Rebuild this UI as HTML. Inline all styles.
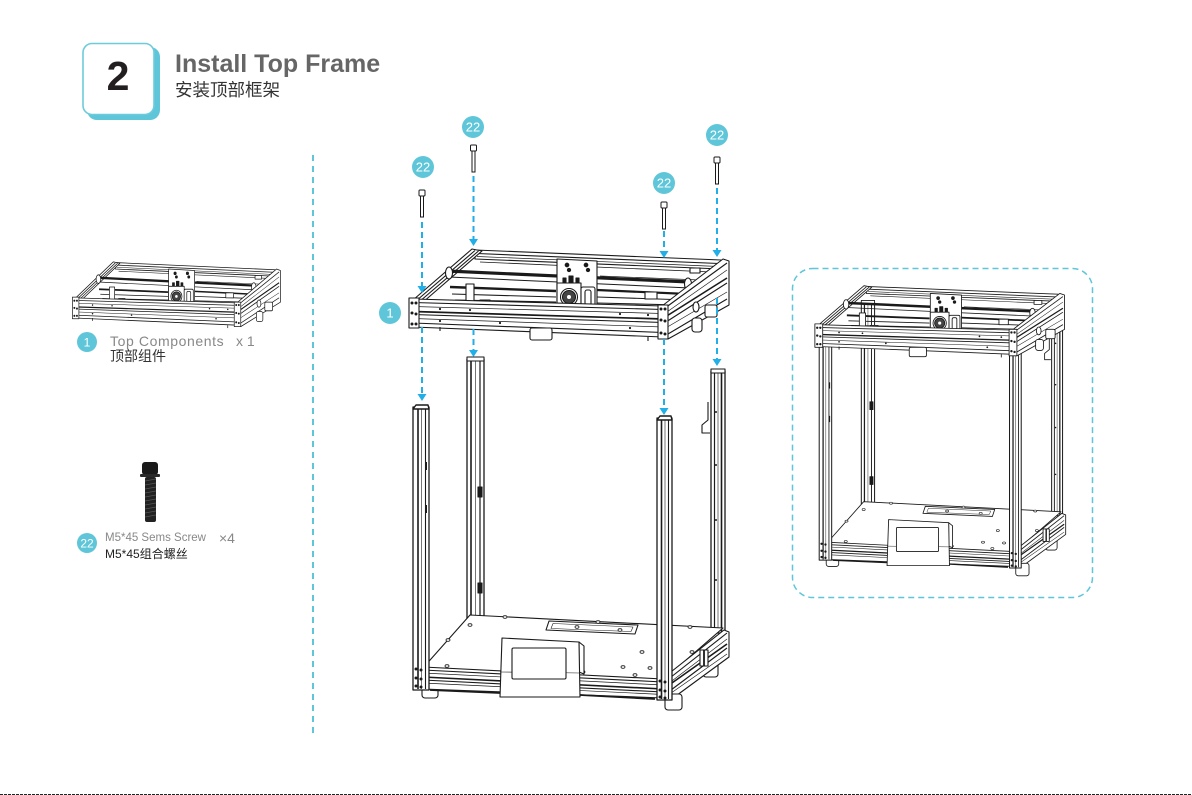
<!DOCTYPE html>
<html><head><meta charset="utf-8">
<style>
html,body{margin:0;padding:0;background:#fff;}
body{width:1192px;height:795px;position:relative;overflow:hidden;font-family:"Liberation Sans","Noto Sans CJK SC",sans-serif;}
.t{position:absolute;white-space:nowrap;line-height:1;}
svg{position:absolute;left:0;top:0;}
</style></head>
<body>
<svg width="1192" height="795" viewBox="0 0 1192 795">
<defs>
<!-- TOP FRAME (main coords) -->
<g id="tf" fill="#fff" stroke="#1a1a1a" stroke-width="1.1" stroke-linejoin="round">
  <polygon points="475,250 721,260 721,269 475,259"/>
  <line x1="477" y1="253.5" x2="719" y2="263.5"/>
  <line x1="477" y1="256.5" x2="719" y2="266.5" stroke-width="0.7"/>
  <polygon points="413,300 472,249 482,251 422,303"/>
  <line x1="416" y1="301" x2="475" y2="250.5"/>
  <line x1="419" y1="302" x2="478.5" y2="251"/>
  <!-- inner rods -->
  <line x1="480" y1="262" x2="712" y2="272" stroke-width="0.8"/>
  <line x1="447" y1="271" x2="690" y2="282" stroke-width="3.2"/>
  <line x1="449" y1="277" x2="690" y2="288" stroke-width="1"/>
  <line x1="450" y1="287" x2="556" y2="291" stroke-width="2.4"/>
  <line x1="452" y1="294" x2="556" y2="297"/>
  <line x1="455" y1="300" x2="556" y2="302"/>
  <line x1="462" y1="305" x2="556" y2="307"/>
  <line x1="597" y1="290" x2="688" y2="294" stroke-width="2.2"/>
  <line x1="597" y1="297" x2="688" y2="300"/>
  <line x1="597" y1="303" x2="680" y2="305"/>
  <line x1="600" y1="276" x2="700" y2="280" stroke-width="0.7"/>
  <rect x="466" y="284" width="8" height="18" />
  <rect x="480" y="300" width="10" height="7"/>
  <rect x="645" y="292" width="12" height="7"/>
  <rect x="690" y="268" width="10" height="5"/>
  <ellipse cx="449" cy="273" rx="3.5" ry="6"/>
  <ellipse cx="688" cy="284" rx="3.5" ry="6"/>
  <!-- carriage -->
  <polygon points="557,259 597,261 597,308 557,307"/>
  <circle cx="567" cy="265" r="1.8" fill="#1a1a1a"/>
  <circle cx="586" cy="265" r="1.8" fill="#1a1a1a"/>
  <circle cx="569" cy="270" r="1.6" fill="#1a1a1a"/>
  <circle cx="588" cy="270" r="1.6" fill="#1a1a1a"/>
  <rect x="563" y="278" width="3" height="5" fill="#1a1a1a"/>
  <rect x="569" y="276" width="4" height="7" fill="#1a1a1a"/>
  <rect x="576" y="278" width="3" height="5" fill="#1a1a1a"/>
  <rect x="557" y="283" width="24" height="25"/>
  <circle cx="569" cy="297" r="8.5"/>
  <circle cx="569" cy="297" r="6.5" fill="#444"/>
  <circle cx="569" cy="297" r="2" fill="#fff" stroke="none"/>
  <rect x="581" y="287" width="14" height="21" rx="2"/>
  <rect x="585" y="290" width="6" height="15" rx="2"/>
  <!-- front rails -->
  <polygon points="413,299 663,306 663,337 413,327"/>
  <line x1="413" y1="302.5" x2="663" y2="309.5"/>
  <line x1="413" y1="306.5" x2="663" y2="313.5" stroke-width="0.7"/>
  <line x1="413" y1="311.5" x2="663" y2="319" stroke-width="1.7"/>
  <line x1="413" y1="314.5" x2="663" y2="322.5"/>
  <line x1="413" y1="318.5" x2="663" y2="327" stroke-width="0.7"/>
  <line x1="413" y1="323" x2="663" y2="332.5"/>
  <g fill="#1a1a1a" stroke="none">
    <circle cx="440" cy="309" r="1.1"/><circle cx="470" cy="310" r="1.1"/><circle cx="620" cy="314" r="1.1"/><circle cx="648" cy="315" r="1.1"/>
    <circle cx="440" cy="321" r="1.1"/><circle cx="500" cy="323" r="1.1"/><circle cx="630" cy="328" r="1.1"/>
  </g>
  <rect x="409" y="298" width="10" height="30" fill="#fff"/>
  <g fill="#1a1a1a" stroke="none"><circle cx="412" cy="303" r="1.5"/><circle cx="416" cy="303" r="1.5"/><circle cx="412" cy="313" r="1.5"/><circle cx="416" cy="314" r="1.5"/><circle cx="412" cy="324" r="1.5"/><circle cx="416" cy="324" r="1.5"/></g>
  <!-- right side rails -->
  <polygon points="662,306 723,259 729,261 729,305 668,339 662,337"/>
  <line x1="665" y1="308" x2="727" y2="263"/>
  <line x1="664" y1="314" x2="727" y2="270" stroke-width="0.7"/>
  <line x1="662" y1="319" x2="727" y2="278" stroke-width="1.6"/>
  <line x1="666" y1="322" x2="727" y2="283"/>
  <line x1="664" y1="329" x2="727" y2="292" stroke-width="0.7"/>
  <line x1="668" y1="334" x2="727" y2="299"/>
  <rect x="658" y="305" width="10" height="34" fill="#fff"/>
  <g fill="#1a1a1a" stroke="none"><circle cx="661" cy="309" r="1.5"/><circle cx="665" cy="309" r="1.5"/><circle cx="661" cy="320" r="1.5"/><circle cx="665" cy="321" r="1.5"/><circle cx="661" cy="333" r="1.5"/><circle cx="665" cy="334" r="1.5"/></g>
  <rect x="692" y="318" width="10" height="14" rx="3"/>
  <rect x="705" y="305" width="12" height="12" rx="2"/>
  <ellipse cx="696" cy="307" rx="3" ry="5"/>
  <line x1="440" y1="327" x2="440" y2="331"/>
  <line x1="648" y1="337" x2="648" y2="341"/>
</g>
<g id="blk" fill="#fff" stroke="#1a1a1a" stroke-width="1.1">
  <rect x="530" y="328" width="22" height="12" rx="2"/>
</g>

<!-- POSTS + BASE (main coords) -->
<g id="pb" fill="#fff" stroke="#1a1a1a" stroke-width="1.1" stroke-linejoin="round">
  <!-- back posts -->
  <rect x="467" y="359" width="17" height="262" stroke-width="1.3"/>
  <line x1="471" y1="360" x2="471" y2="620" stroke-width="1.6"/>
  <line x1="475.5" y1="360" x2="475.5" y2="620" stroke-width="0.6"/>
  <line x1="480" y1="360" x2="480" y2="620" stroke-width="1.2"/>
  <rect x="467" y="357" width="17" height="4"/>
  <rect x="478" y="487" width="4" height="10" fill="#1a1a1a"/>
  <rect x="478" y="583" width="4" height="10" fill="#1a1a1a"/>
  <rect x="711" y="371" width="14" height="262" stroke-width="1.3"/>
  <line x1="714.5" y1="372" x2="714.5" y2="632" stroke-width="1.2"/>
  <line x1="718" y1="372" x2="718" y2="632" stroke-width="0.6"/>
  <line x1="721.5" y1="372" x2="721.5" y2="632" stroke-width="1.6"/>
  <rect x="711" y="369" width="14" height="4"/>
  <polyline points="708,402 708,420 702,425 702,433 710,433"/>
  <g fill="#1a1a1a" stroke="none"><circle cx="716" cy="412" r="1"/><circle cx="716" cy="465" r="1"/><circle cx="716" cy="520" r="1"/><circle cx="716" cy="580" r="1"/></g>
  <!-- right back foot -->
  <rect x="703" y="656" width="15" height="21" rx="3"/>
  <!-- plate -->
  <polygon points="470,615 723,628 663,680 423,668"/>
  <polygon points="549,621 638,625 635,634 546,630"/>
  <polygon points="553,623.5 633,627 631,631.5 551,628.5" stroke-width="0.6"/>
  <g fill="#fff" stroke="#1a1a1a" stroke-width="0.8">
    <ellipse cx="470" cy="625" rx="2" ry="1.3"/><ellipse cx="505" cy="617" rx="2" ry="1.3"/><ellipse cx="448" cy="640" rx="2" ry="1.3"/>
    <ellipse cx="447" cy="666" rx="2" ry="1.3"/><ellipse cx="642" cy="652" rx="2" ry="1.3"/><ellipse cx="692" cy="652" rx="2" ry="1.3"/>
    <ellipse cx="623" cy="667" rx="2" ry="1.3"/><ellipse cx="635" cy="675" rx="2" ry="1.3"/><ellipse cx="650" cy="668" rx="2" ry="1.3"/>
    <ellipse cx="583" cy="672" rx="2" ry="1.3"/><ellipse cx="598" cy="622" rx="2" ry="1.3"/><ellipse cx="620" cy="630" rx="2" ry="1.3"/>
    <ellipse cx="577" cy="627" rx="2" ry="1.3"/><ellipse cx="690" cy="627" rx="2" ry="1.3"/><ellipse cx="663" cy="640" rx="2" ry="1.3"/>
  </g>
  <!-- right side rails -->
  <polygon points="662,679 724,630 729,632 729,657 669,701 662,699"/>
  <line x1="666" y1="681" x2="727" y2="633"/>
  <line x1="664" y1="687" x2="727" y2="639" stroke-width="0.7"/>
  <line x1="662" y1="690" x2="727" y2="644" stroke-width="1.6"/>
  <line x1="667" y1="693" x2="727" y2="648"/>
  <line x1="664" y1="698" x2="727" y2="654" stroke-width="0.7"/>
  <rect x="700" y="650" width="8" height="16" fill="#fff"/>
  <line x1="704" y1="650" x2="704" y2="666" stroke-width="1.8"/>
  <!-- feet -->
  <rect x="422" y="684" width="16" height="14" rx="3"/>
  <rect x="665" y="694" width="17" height="16" rx="3"/>
  <!-- front rails -->
  <polygon points="423,667 663,679 663,698 423,689"/>
  <line x1="423" y1="670" x2="663" y2="682"/>
  <line x1="423" y1="673" x2="663" y2="685" stroke-width="0.7"/>
  <line x1="423" y1="677" x2="663" y2="689" stroke-width="1.6"/>
  <line x1="423" y1="680" x2="663" y2="692"/>
  <line x1="423" y1="683" x2="663" y2="694.5" stroke-width="0.7"/>
  <line x1="430" y1="690" x2="500" y2="693" stroke-width="1.8"/>
  <line x1="580" y1="695" x2="655" y2="699" stroke-width="1.8"/>
  <!-- display -->
  <polygon points="579,642 584,646 584,674 579,672" />
  <polygon points="502,638 579,642 580,697 500,697"/>
  <line x1="500" y1="672" x2="580" y2="673" stroke-width="0.6"/>
  <rect x="512" y="648" width="54" height="31" rx="1.5"/>
  <!-- front posts -->
  <rect x="413" y="407" width="16" height="283" stroke-width="1.3"/>
  <line x1="418" y1="408" x2="418" y2="689" stroke-width="1.6"/>
  <line x1="421.5" y1="408" x2="421.5" y2="689" stroke-width="0.6"/>
  <line x1="425.5" y1="408" x2="425.5" y2="689" stroke-width="1.1"/>
  <polygon points="413,409 416,405 428,405 429,409" fill="#fff" stroke-width="1.4"/>
  <rect x="425" y="462" width="2" height="8" fill="#1a1a1a" stroke="none"/>
  <rect x="425" y="505" width="2" height="8" fill="#1a1a1a" stroke="none"/>
  <rect x="657" y="418" width="15" height="282" stroke-width="1.3"/>
  <line x1="661.5" y1="419" x2="661.5" y2="699" stroke-width="1.6"/>
  <line x1="665" y1="419" x2="665" y2="699" stroke-width="0.6"/>
  <line x1="668.5" y1="419" x2="668.5" y2="699" stroke-width="1.1"/>
  <polygon points="657,420 660,416 671,416 672,420" fill="#fff" stroke-width="1.4"/>
  <g fill="#1a1a1a" stroke="none">
    <circle cx="416" cy="669" r="1.5"/><circle cx="421" cy="670" r="1.5"/><circle cx="416" cy="678" r="1.5"/><circle cx="421" cy="679" r="1.5"/><circle cx="416" cy="686" r="1.5"/><circle cx="421" cy="687" r="1.5"/>
    <circle cx="660" cy="681" r="1.5"/><circle cx="665" cy="682" r="1.5"/><circle cx="660" cy="690" r="1.5"/><circle cx="665" cy="691" r="1.5"/><circle cx="660" cy="697" r="1.5"/><circle cx="665" cy="698" r="1.5"/>
  </g>
</g>
</defs>

<!-- header box -->
<rect x="87" y="47" width="73" height="73" rx="10" fill="#5ec6d8"/>
<rect x="83" y="43.5" width="71" height="71" rx="9" fill="#fff" stroke="#6dcbdb" stroke-width="1.6"/>

<!-- divider -->
<line x1="313" y1="155" x2="313" y2="737" stroke="#5ec6d8" stroke-width="2" stroke-dasharray="6,5"/>

<!-- left panel small frame -->
<use href="#tf" transform="translate(75,300) scale(0.65,0.72) translate(-413,-302)"/>

<!-- left screw -->
<g>
  <rect x="142" y="462" width="16" height="13" rx="3" fill="#1a1a1a"/>
  <rect x="140" y="474" width="20" height="3" rx="1" fill="#2a2a2a"/>
  <rect x="145" y="477" width="11" height="45" rx="2" fill="#222"/>
  <g stroke="#555" stroke-width="0.8">
    <line x1="145" y1="481" x2="156" y2="479"/><line x1="145" y1="485" x2="156" y2="483"/><line x1="145" y1="489" x2="156" y2="487"/>
    <line x1="145" y1="493" x2="156" y2="491"/><line x1="145" y1="497" x2="156" y2="495"/><line x1="145" y1="501" x2="156" y2="499"/>
    <line x1="145" y1="505" x2="156" y2="503"/><line x1="145" y1="509" x2="156" y2="507"/><line x1="145" y1="513" x2="156" y2="511"/>
    <line x1="145" y1="517" x2="156" y2="515"/>
  </g>
</g>

<!-- badges left -->
<circle cx="87" cy="342" r="10" fill="#5ec6d8"/>
<text x="87" y="346.5" font-family="Liberation Sans, sans-serif" font-size="12" fill="#fff" text-anchor="middle">1</text>
<circle cx="87" cy="543" r="10" fill="#5ec6d8"/>
<text x="87" y="547.5" font-family="Liberation Sans, sans-serif" font-size="12" fill="#fff" text-anchor="middle">22</text>

<!-- main printer -->
<use href="#pb"/>
<use href="#tf"/>
<use href="#blk"/>

<!-- main screws -->
<g fill="#fff" stroke="#1a1a1a" stroke-width="1">
  <rect x="419" y="190" width="6" height="6" rx="1"/><rect x="420.5" y="196" width="3" height="21"/>
  <rect x="470.5" y="145" width="6" height="6" rx="1"/><rect x="472" y="151" width="3" height="21"/>
  <rect x="661" y="202" width="6" height="6" rx="1"/><rect x="662.5" y="208" width="3" height="21"/>
  <rect x="714" y="157" width="6" height="6" rx="1"/><rect x="715.5" y="163" width="3" height="21"/>
</g>

<!-- arrows -->
<g stroke="#22aee6" stroke-width="2" stroke-dasharray="6,4" fill="none">
  <line x1="422" y1="222" x2="422" y2="287"/>
  <line x1="422" y1="327" x2="422" y2="394"/>
  <line x1="473.5" y1="176" x2="473.5" y2="240"/>
  <line x1="473.5" y1="329" x2="473.5" y2="350"/>
  <line x1="664" y1="231" x2="664" y2="251"/>
  <line x1="664" y1="339" x2="664" y2="409"/>
  <line x1="717" y1="188" x2="717" y2="250"/>
  <line x1="717" y1="298" x2="717" y2="359"/>
</g>
<g fill="#22aee6">
  <polygon points="417.5,286 426.5,286 422,293"/>
  <polygon points="417.5,394 426.5,394 422,401"/>
  <polygon points="469,239 478,239 473.5,246"/>
  <polygon points="469,350 478,350 473.5,357"/>
  <polygon points="659.5,251 668.5,251 664,258"/>
  <polygon points="659.5,408 668.5,408 664,415"/>
  <polygon points="712.5,250 721.5,250 717,257"/>
  <polygon points="712.5,359 721.5,359 717,366"/>
</g>

<!-- main badges -->
<g fill="#5ec6d8">
  <circle cx="423" cy="167" r="11"/><circle cx="473" cy="127" r="11"/><circle cx="664" cy="183" r="11"/><circle cx="717" cy="135" r="11"/>
  <circle cx="390" cy="313" r="11"/>
</g>
<g font-family="Liberation Sans, sans-serif" font-size="13" fill="#fff" text-anchor="middle">
  <text x="423" y="171.5">22</text><text x="473" y="131.5">22</text><text x="664" y="187.5">22</text><text x="717" y="139.5">22</text>
  <text x="390" y="317.5">1</text>
</g>

<!-- right box -->
<rect x="792.5" y="268.5" width="300" height="329" rx="20" fill="none" stroke="#5ec6d8" stroke-width="1.5" stroke-dasharray="6,4"/>
<use href="#pb" transform="translate(827,543) scale(0.78) translate(-423,-668)"/>
<use href="#tf" transform="translate(818,327) scale(0.78) translate(-413,-302)"/>
<use href="#blk" transform="translate(818,327) scale(0.78) translate(-413,-302)"/>

<!-- bottom edge line -->
<line x1="0" y1="794.5" x2="1192" y2="794.5" stroke="#222" stroke-width="1" stroke-dasharray="3,1"/>
</svg>

<div class="t" style="left:98px;top:56px;width:40px;text-align:center;font-size:41px;font-weight:bold;color:#231f20;">2</div>
<div class="t" style="left:175px;top:52px;font-size:25px;font-weight:bold;color:#666;">Install Top Frame</div>
<div class="t" style="left:175px;top:82px;font-size:17.5px;color:#333;font-family:'Liberation Sans','Noto Sans CJK SC',sans-serif;">安装顶部框架</div>

<div class="t" style="left:110px;top:334px;font-size:14px;color:#888;letter-spacing:0.6px;">Top Components</div>
<div class="t" style="left:236px;top:334px;font-size:14px;color:#888;">x 1</div>
<div class="t" style="left:110px;top:349px;font-size:14px;color:#333;font-family:'Liberation Sans','Noto Sans CJK SC',sans-serif;">顶部组件</div>

<div class="t" style="left:105px;top:533px;font-size:11.5px;color:#888;">M5*45 Sems Screw</div>
<div class="t" style="left:219px;top:531px;font-size:14px;color:#888;">×4</div>
<div class="t" style="left:105px;top:548px;font-size:12px;color:#222;font-family:'Liberation Sans','Noto Sans CJK SC',sans-serif;">M5*45组合螺丝</div>
</body></html>
